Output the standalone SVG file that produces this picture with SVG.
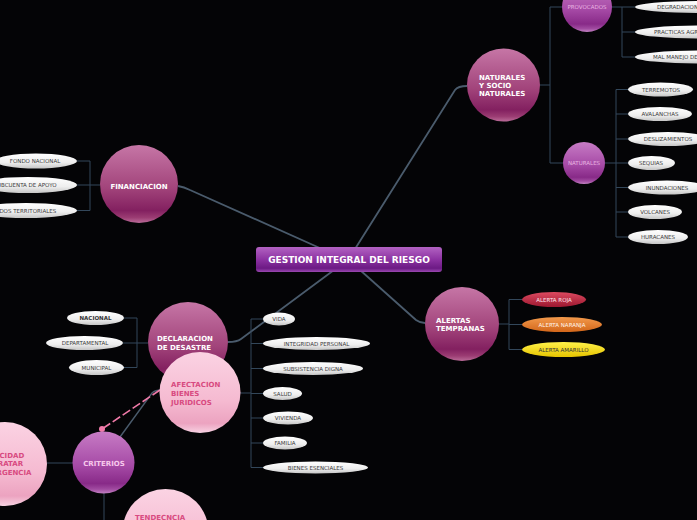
<svg xmlns="http://www.w3.org/2000/svg" width="697" height="520" viewBox="0 0 697 520">
<defs>
<linearGradient id="gMag" x1="0" y1="0" x2="0" y2="1">
<stop offset="0" stop-color="#c676a6"/><stop offset="0.55" stop-color="#a2447b"/><stop offset="0.84" stop-color="#832060"/><stop offset="0.93" stop-color="#9b3c73"/><stop offset="1" stop-color="#bb6c99"/>
</linearGradient>
<linearGradient id="gPur" x1="0" y1="0" x2="0" y2="1">
<stop offset="0" stop-color="#c77cc5"/><stop offset="0.55" stop-color="#a64aa6"/><stop offset="0.84" stop-color="#882a88"/><stop offset="0.93" stop-color="#a04aa0"/><stop offset="1" stop-color="#c282c2"/>
</linearGradient>
<linearGradient id="gPink" x1="0" y1="0" x2="0" y2="1">
<stop offset="0" stop-color="#fbd3e3"/><stop offset="0.6" stop-color="#f5bad1"/><stop offset="0.88" stop-color="#eca3c0"/><stop offset="1" stop-color="#f8d2e2"/>
</linearGradient>
<linearGradient id="gWhite" x1="0" y1="0" x2="0" y2="1">
<stop offset="0" stop-color="#ffffff"/><stop offset="0.6" stop-color="#eeeeee"/><stop offset="1" stop-color="#c6c6c6"/>
</linearGradient>
<linearGradient id="gRed" x1="0" y1="0" x2="0" y2="1">
<stop offset="0" stop-color="#dc4a60"/><stop offset="1" stop-color="#9c1830"/>
</linearGradient>
<linearGradient id="gOrange" x1="0" y1="0" x2="0" y2="1">
<stop offset="0" stop-color="#f39a4c"/><stop offset="1" stop-color="#d2661a"/>
</linearGradient>
<linearGradient id="gYellow" x1="0" y1="0" x2="0" y2="1">
<stop offset="0" stop-color="#fff24a"/><stop offset="1" stop-color="#e6c400"/>
</linearGradient>
<linearGradient id="gCenter" x1="0" y1="0" x2="0" y2="1">
<stop offset="0" stop-color="#b262c2"/><stop offset="0.5" stop-color="#8c32a2"/><stop offset="0.85" stop-color="#6c1a84"/><stop offset="1" stop-color="#9a48b0"/>
</linearGradient>
</defs>
<style>
.main{fill:none;stroke:#4a5b6c;stroke-width:1.8}
.tree{fill:none;stroke:#33475a;stroke-width:1}
.pill{fill:url(#gWhite)}
.pt{font-family:"DejaVu Sans",sans-serif;font-size:5.5px;fill:#3a3a3a;text-anchor:middle}
.ptb{font-family:"DejaVu Sans",sans-serif;font-size:5.5px;font-weight:bold;fill:#333;text-anchor:middle}
.nt{font-family:"DejaVu Sans",sans-serif;font-size:7px;font-weight:bold;fill:#ffffff}
.pk{font-family:"DejaVu Sans",sans-serif;font-size:7px;font-weight:bold;fill:#d84a80}
.st{font-family:"DejaVu Sans",sans-serif;font-size:5.5px;fill:#e8b4e2;text-anchor:middle}
</style>
<rect x="0" y="0" width="697" height="520" fill="#040406"/>
<g id="connectors">
<path class="main" d="M355,249 L455,90 Q458,86 467,86"/>
<path class="main" d="M322,249 L190,190 Q184,187 178,186"/>
<path class="main" d="M360,270 L416,320 Q420,323 425,323"/>
<path class="main" d="M334,270 L241,339 Q237,342 228,342"/>
<path class="tree" d="M100,185 H90 M90,161 V210.5 M77,161 H90 M77,185 H90 M77,210.5 H90"/>
<path class="tree" d="M540,85 H550 M550,7 V163 M550,7 H562 M550,163 H563"/>
<path class="tree" d="M612,7 H622 M622,7 V57 M622,7 H635 M622,32 H635 M622,57 H635"/>
<path class="tree" d="M605,163 H616 M616,89.5 V237 M616,89.5 H628 M616,114 H628 M616,139 H628 M616,163 H628 M616,187.5 H628 M616,212 H628 M616,237 H628"/>
<path class="tree" d="M499,324 H509 M509,299.5 V349.5 M509,299.5 H522 M509,324.5 H522 M509,349.5 H522"/>
<path class="tree" d="M148,343 H137 M137,318 V367.5 M124,318 H137 M123,343 H137 M124,367.5 H137"/>
<path class="tree" d="M240,393 H251 M251,319 V467.5 M251,319 H263 M251,343.5 H263 M251,368.5 H263 M251,393.5 H263 M251,418 H263 M251,443 H263 M251,467.5 H263"/>
<path class="tree" d="M47,463 H73 M104,493 V520"/>
<path class="main" style="stroke-width:1.4" d="M120,437 L152,393 Q155,390 162,390"/>
<path d="M160,390 L102,429" fill="none" stroke="#f07aa8" stroke-width="1.6" stroke-dasharray="9 3"/>
<circle cx="102" cy="429" r="3" fill="#f07aa8"/>
</g>
<g id="center">
<rect x="256" y="247" width="186" height="25" rx="3" fill="url(#gCenter)"/>
<text x="349" y="262.8" font-family="DejaVu Sans, sans-serif" font-size="9" font-weight="bold" fill="#ffffff" text-anchor="middle">GESTION INTEGRAL DEL RIESGO</text>
</g>
<g id="naturales-socio">
<circle cx="503.5" cy="85" r="36.5" fill="url(#gMag)"/>
<text class="nt" x="479" y="80">NATURALES</text>
<text class="nt" x="479" y="88">Y SOCIO</text>
<text class="nt" x="479" y="96">NATURALES</text>
</g>
<g id="provocados">
<circle cx="587" cy="7" r="25" fill="url(#gPur)"/>
<text class="st" x="587" y="9">PROVOCADOS</text>
</g>
<g id="provocados-items">
<ellipse class="pill" cx="700" cy="7" rx="65" ry="6"/>
<text class="pt" x="657" y="9" style="text-anchor:start">DEGRADACION</text>
<ellipse class="pill" cx="700" cy="32" rx="65" ry="6.5"/>
<text class="pt" x="654" y="34" style="text-anchor:start">PRACTICAS AGRICOLAS</text>
<ellipse class="pill" cx="700" cy="57" rx="65" ry="6.5"/>
<text class="pt" x="653" y="59" style="text-anchor:start">MAL MANEJO DE</text>
</g>
<g id="naturales">
<circle cx="584" cy="163" r="21" fill="url(#gPur)"/>
<text class="st" x="584" y="165">NATURALES</text>
</g>
<g id="naturales-items">
<ellipse class="pill" cx="660.5" cy="89.5" rx="32.5" ry="7"/><text class="pt" x="661" y="91.5">TERREMOTOS</text>
<ellipse class="pill" cx="660" cy="114" rx="32" ry="7"/><text class="pt" x="660" y="116">AVALANCHAS</text>
<ellipse class="pill" cx="668" cy="139" rx="40" ry="7"/><text class="pt" x="668" y="141">DESLIZAMIENTOS</text>
<ellipse class="pill" cx="651.5" cy="163" rx="23.5" ry="7"/><text class="pt" x="651" y="165">SEQUIAS</text>
<ellipse class="pill" cx="667" cy="187.5" rx="39" ry="7"/><text class="pt" x="667" y="189.5">INUNDACIONES</text>
<ellipse class="pill" cx="655" cy="212" rx="27" ry="7"/><text class="pt" x="655" y="214">VOLCANES</text>
<ellipse class="pill" cx="658" cy="237" rx="30" ry="7"/><text class="pt" x="658" y="239">HURACANES</text>
</g>
<g id="financiacion">
<circle cx="139" cy="184" r="39" fill="url(#gMag)"/>
<text class="nt" x="139" y="188.5" text-anchor="middle">FINANCIACION</text>
</g>
<g id="financiacion-items">
<ellipse class="pill" cx="36" cy="161" rx="41" ry="7.5"/><text class="pt" x="35" y="163">FONDO NACIONAL</text>
<ellipse class="pill" cx="28" cy="185" rx="49" ry="8"/><text class="pt" x="25" y="187">SUBCUENTA DE APOYO</text>
<ellipse class="pill" cx="26" cy="210.5" rx="51" ry="7.5"/><text class="pt" x="22" y="212.5">FONDOS TERRITORIALES</text>
</g>
<g id="alertas">
<circle cx="462" cy="324" r="37" fill="url(#gMag)"/>
<text class="nt" x="436" y="322.5">ALERTAS</text>
<text class="nt" x="436" y="331">TEMPRANAS</text>
</g>
<g id="alertas-items">
<ellipse cx="554" cy="299.5" rx="32" ry="7.5" fill="url(#gRed)"/><text class="pt" x="554" y="301.5" style="fill:#ffe6ec">ALERTA ROJA</text>
<ellipse cx="562" cy="324.5" rx="40" ry="7.5" fill="url(#gOrange)"/><text class="pt" x="562" y="326.5" style="fill:#fff4ea">ALERTA NARANJA</text>
<ellipse cx="563.5" cy="349.5" rx="41.5" ry="7.5" fill="url(#gYellow)"/><text class="pt" x="563.5" y="351.5" style="fill:#333">ALERTA AMARILLO</text>
</g>
<g id="declaracion">
<circle cx="188" cy="342" r="40" fill="url(#gMag)"/>
<text class="nt" x="157" y="341">DECLARACION</text>
<text class="nt" x="157" y="350">DE DESASTRE</text>
</g>
<g id="declaracion-items">
<ellipse class="pill" cx="95.5" cy="318" rx="28.5" ry="7"/><text class="ptb" x="95.5" y="320">NACIONAL</text>
<ellipse class="pill" cx="84.5" cy="343" rx="38.5" ry="7"/><text class="pt" x="85" y="345">DEPARTAMENTAL</text>
<ellipse class="pill" cx="96.5" cy="367.5" rx="27.5" ry="7.5"/><text class="pt" x="96.5" y="369.5">MUNICIPAL</text>
</g>
<g id="afectacion">
<circle cx="200" cy="392.5" r="40.5" fill="url(#gPink)"/>
<text class="pk" x="171" y="387">AFECTACION</text>
<text class="pk" x="171" y="396">BIENES</text>
<text class="pk" x="171" y="404.5">JURIDICOS</text>
</g>
<g id="afectacion-items">
<ellipse class="pill" cx="279" cy="319" rx="16" ry="6.5"/><text class="pt" x="279" y="321">VIDA</text>
<ellipse class="pill" cx="316.5" cy="343.5" rx="53.5" ry="6.5"/><text class="pt" x="316.5" y="345.5">INTEGRIDAD PERSONAL</text>
<ellipse class="pill" cx="313" cy="368.5" rx="50" ry="6.5"/><text class="pt" x="313" y="370.5">SUBSISTENCIA DIGNA</text>
<ellipse class="pill" cx="282.5" cy="393.5" rx="19.5" ry="6.5"/><text class="pt" x="282.5" y="395.5">SALUD</text>
<ellipse class="pill" cx="288" cy="418" rx="25" ry="6.5"/><text class="pt" x="288" y="420">VIVIENDA</text>
<ellipse class="pill" cx="285" cy="443" rx="22" ry="6.5"/><text class="pt" x="285" y="445">FAMILIA</text>
<ellipse class="pill" cx="315.5" cy="467.5" rx="52.5" ry="6"/><text class="pt" x="315.5" y="469.5">BIENES ESENCIALES</text>
</g>
<g id="criterios">
<circle cx="103.5" cy="462.5" r="31" fill="url(#gPur)"/>
<text class="nt" x="104" y="465.5" text-anchor="middle" style="fill:#f8c8ec">CRITERIOS</text>
</g>
<g id="capacidad">
<circle cx="5" cy="464" r="42" fill="url(#gPink)"/>
<text class="pk" x="-21" y="457.5">CAPACIDAD</text>
<text class="pk" x="-20" y="466.3">DE TRATAR</text>
<text class="pk" x="-20" y="475">EMERGENCIA</text>
</g>
<g id="tendencia">
<circle cx="165.5" cy="532" r="43" fill="url(#gPink)"/>
<text class="pk" x="135" y="520">TENDECNCIA</text>
</g>
</svg>
